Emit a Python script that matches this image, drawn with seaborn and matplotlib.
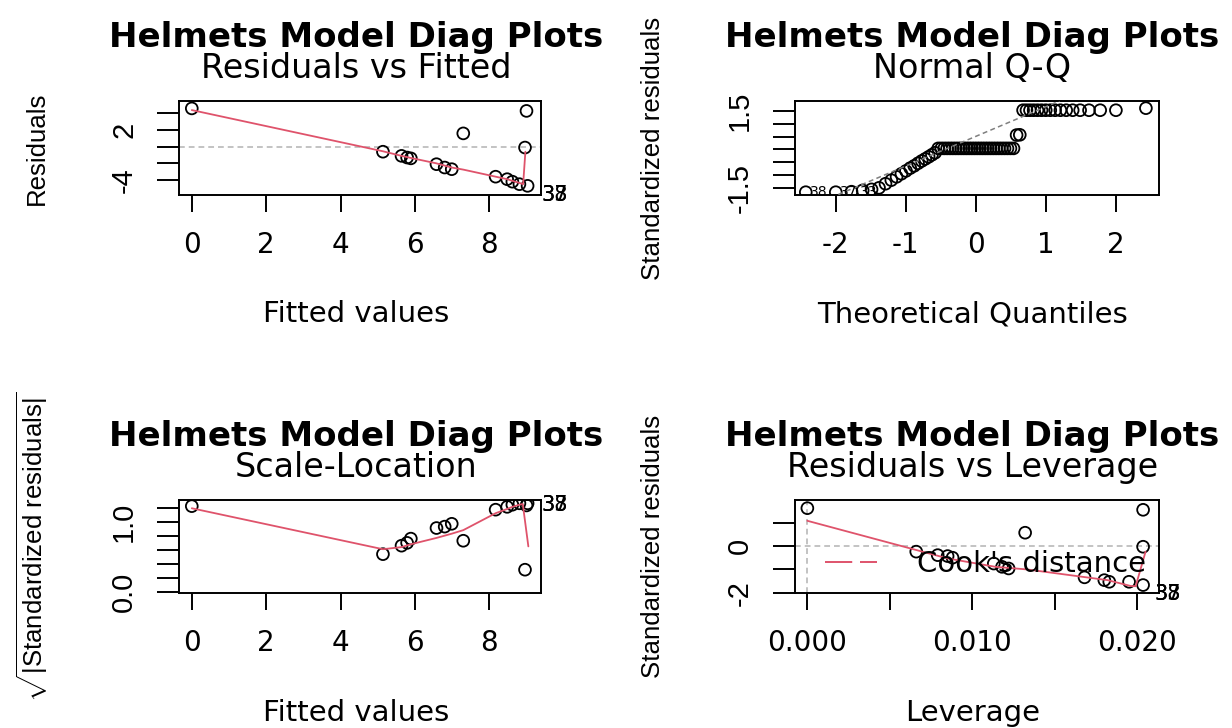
import matplotlib
matplotlib.use("Agg")
import matplotlib.pyplot as plt
import seaborn as sns
import numpy as np
from statistics import NormalDist
from matplotlib.lines import Line2D

# ---------------- data ----------------
fitted = [0.00, 9.00, 7.30, 8.96, 5.14, 5.64, 5.79, 5.89, 6.58, 6.80, 6.99,
          8.17, 8.48, 8.62, 8.81, 9.03]
residuals = [4.6, 4.3, 1.6, -0.1, -0.6, -1.1, -1.3, -1.4, -2.1, -2.5, -2.7,
             -3.6, -3.9, -4.2, -4.5, -4.7]
sqrt_std_resid = [1.22, 1.23, 0.73, 0.32, 0.54, 0.66, 0.70, 0.76, 0.91, 0.93,
                  0.97, 1.17, 1.21, 1.24, 1.26, 1.26]
leverage = [0.0, 0.02035, 0.0132, 0.02035, 0.0066, 0.0079, 0.0085, 0.0088,
            0.0113, 0.0118, 0.0122, 0.0168, 0.0180, 0.0183, 0.0195, 0.02035]
std_resid = [1.62, 1.55, 0.57, -0.03, -0.24, -0.39, -0.43, -0.50, -0.75,
             -0.89, -0.96, -1.34, -1.46, -1.53, -1.53, -1.67]

# lowess smoother curves (red)
smooth_rf_x = [0.00, 5.14, 5.64, 5.89, 6.58, 6.99, 7.30, 8.17, 8.48, 8.62, 8.81, 8.91, 8.97]
smooth_rf_y = [4.4, -0.55, -1.1, -1.35, -2.0, -2.5, -2.75, -3.6, -3.9, -4.1, -4.35, -4.5, -0.6]
smooth_sl_x = [0.00, 5.14, 5.64, 5.89, 6.58, 6.99, 7.30, 8.17, 8.48, 8.62, 8.81, 8.90, 9.05]
smooth_sl_y = [1.19, 0.61, 0.64, 0.68, 0.77, 0.83, 0.88, 1.12, 1.18, 1.21, 1.24, 1.25, 0.65]
smooth_lev_x = [0.0, 0.0066, 0.0085, 0.0114, 0.0133, 0.0166, 0.0182, 0.0196, 0.0199, 0.0205]
smooth_lev_y = [1.08, -0.17, -0.53, -0.89, -1.0, -1.31, -1.46, -1.71, -1.72, -0.24]

# sorted standardized residuals for the Normal Q-Q panel
qq_std_resid = ([-1.67, -1.67, -1.65, -1.60, -1.56, -1.50, -1.34, -1.20, -1.07,
                 -0.95, -0.84, -0.73, -0.64, -0.54, -0.45, -0.37, -0.29, -0.21, -0.13]
                + [0.04] * 28
                + [0.56, 0.57]
                + [1.53] * 16
                + [1.61])

id_labels = ["38", "37", "33"]

titles_main = "Helmets Model Diag Plots"
subtitles = ["Residuals vs Fitted", "Normal Q-Q", "Scale-Location", "Residuals vs Leverage"]
xlabels = ["Fitted values", "Theoretical Quantiles", "Fitted values", "Leverage"]

# ---------------- style ----------------
sns.set_style("white")
plt.rcParams["font.family"] = ["DejaVu Sans"]
plt.rcParams["text.color"] = "black"
plt.rcParams["axes.edgecolor"] = "black"
plt.rcParams["axes.linewidth"] = 1.4
plt.rcParams["xtick.color"] = "black"
plt.rcParams["ytick.color"] = "black"
plt.rcParams["mathtext.fontset"] = "custom"
plt.rcParams["mathtext.rm"] = "Liberation Sans"
plt.rcParams["mathtext.it"] = "Liberation Sans:italic"
plt.rcParams["mathtext.bf"] = "Liberation Sans:bold"

RED = "#DF536B"
W, H = 1232, 728
fig = plt.figure(figsize=(W / 100, H / 100), dpi=100)
fig.patch.set_facecolor("white")


def box(l, r, t, b):
    return [l / W, 1 - b / H, (r - l) / W, (b - t) / H]


def ftext(px, py, s, **kw):
    fig.text(px / W, 1 - py / H, s, **kw)


ax1 = fig.add_axes(box(179, 541, 101, 194.5))
ax2 = fig.add_axes(box(794.5, 1158.6, 101, 194.5))
ax3 = fig.add_axes(box(179, 541, 500, 593))
ax4 = fig.add_axes(box(794.5, 1158.6, 500, 593))
axes = [ax1, ax2, ax3, ax4]

pt_kw = dict(marker="o", s=72, facecolors="none", edgecolor="black",
             linewidth=1.3, zorder=3, legend=False)
ln_kw = dict(color=RED, linewidth=1.3, sort=False, estimator=None, zorder=4, legend=False)
ref_ls = (0, (3.2, 2.2))

# Panel 1: Residuals vs Fitted
ax1.axhline(0, color="#BEBEBE", lw=1.3, ls=ref_ls, zorder=1)
sns.scatterplot(x=fitted, y=residuals, ax=ax1, **pt_kw)
sns.lineplot(x=smooth_rf_x, y=smooth_rf_y, ax=ax1, **ln_kw)

# Panel 2: Normal Q-Q
n = len(qq_std_resid)
qq_theo = [NormalDist().inv_cdf((i + 0.5) / n) for i in range(n)]
sns.scatterplot(x=qq_theo, y=qq_std_resid, ax=ax2, **pt_kw)
yq = np.quantile(qq_std_resid, [0.25, 0.75])
xq = [NormalDist().inv_cdf(0.25), NormalDist().inv_cdf(0.75)]
slope = (yq[1] - yq[0]) / (xq[1] - xq[0])
ax2.axline((xq[0], yq[0]), slope=slope, color="#7F7F7F", lw=1.1, ls=ref_ls, zorder=4)

# Panel 3: Scale-Location
sns.scatterplot(x=fitted, y=sqrt_std_resid, ax=ax3, **pt_kw)
sns.lineplot(x=smooth_sl_x, y=smooth_sl_y, ax=ax3, **ln_kw)

# Panel 4: Residuals vs Leverage
ax4.axhline(0, color="#BEBEBE", lw=1.3, ls=ref_ls, zorder=1)
ax4.axvline(0, color="#BEBEBE", lw=1.3, ls=ref_ls, zorder=1)
sns.scatterplot(x=leverage, y=std_resid, ax=ax4, **pt_kw)
sns.lineplot(x=smooth_lev_x, y=smooth_lev_y, ax=ax4, **ln_kw)
handle = Line2D([], [], color=RED, lw=1.4, ls=(0, (14, 4)))
ax4.legend([handle], ["Cook's distance"], loc="center left",
           bbox_to_anchor=(0.084, 0.31), frameon=False, fontsize=21,
           handlelength=1.77, handletextpad=1.39, borderpad=0, borderaxespad=0)

# limits & ticks
ax1.set_xlim(-0.344, 9.39); ax1.set_ylim(-5.74, 5.49)
ax1.set_xticks([0, 2, 4, 6, 8]); ax1.set_xticklabels(["0", "2", "4", "6", "8"])
ax1.set_yticks([-4, -2, 0, 2, 4]); ax1.set_yticklabels(["-4", "", "", "2", ""])

ax2.set_xlim(-2.59, 2.61); ax2.set_ylim(-1.76, 1.89)
ax2.set_xticks([-2, -1, 0, 1, 2]); ax2.set_xticklabels(["-2", "-1", "0", "1", "2"])
ax2.set_yticks([-1.5, -1, -0.5, 0, 0.5, 1, 1.5])
ax2.set_yticklabels(["-1.5", "", "", "", "", "", "1.5"])

ax3.set_xlim(-0.344, 9.39); ax3.set_ylim(-0.01, 1.307)
ax3.set_xticks([0, 2, 4, 6, 8]); ax3.set_xticklabels(["0", "2", "4", "6", "8"])
ax3.set_yticks([0, 0.2, 0.4, 0.6, 0.8, 1.0, 1.2])
ax3.set_yticklabels(["0.0", "", "", "", "", "1.0", ""])

ax4.set_xlim(-0.00078, 0.02129); ax4.set_ylim(-2.01, 1.97)
ax4.set_xticks([0, 0.005, 0.010, 0.015, 0.020])
ax4.set_xticklabels(["0.000", "", "0.010", "", "0.020"])
ax4.set_yticks([-2, -1, 0, 1]); ax4.set_yticklabels(["-2", "", "0", ""])

for ax in axes:
    ax.set_xlabel(""); ax.set_ylabel("")
    for sp in ax.spines.values():
        sp.set_visible(True); sp.set_color("black"); sp.set_linewidth(1.4)
    ax.tick_params(axis="x", bottom=True, direction="out", length=12, width=1.4,
                   pad=14, labelsize=20)
    ax.tick_params(axis="y", left=True, direction="out", length=15.5, width=1.4,
                   pad=14, labelsize=21, labelrotation=90)
    for lbl in ax.get_yticklabels():
        lbl.set_fontfamily("Liberation Sans")
        lbl.set_verticalalignment("center")
    ax.set_facecolor("white")

# point id labels
lab_kw = dict(textcoords="offset points", annotation_clip=False, fontsize=15,
              ha="center", va="center", zorder=6)
k = int(np.argmin(residuals))
for lab in id_labels:
    ax1.annotate(lab, (fitted[k], residuals[k]), xytext=(19.4, -6.6), **lab_kw)
    ax3.annotate(lab, (fitted[k], sqrt_std_resid[k]), xytext=(19.7, -1.2), **lab_kw)
    ax4.annotate(lab, (leverage[k], std_resid[k]), xytext=(17.9, -6.5), **lab_kw)
qq_offsets = [(3, 0), (3, 0), (6, 0)]
for i, lab in enumerate(id_labels):
    ax2.annotate(lab, (qq_theo[i], qq_std_resid[i]), xytext=qq_offsets[i],
                 textcoords="offset points", fontsize=10, ha="left", va="center",
                 annotation_clip=False, zorder=6)

# titles and axis labels
centers = [356, 972.5, 356, 972.5]
row_off = [0, 0, 399, 399]
for c, off, sub, xl in zip(centers, row_off, subtitles, xlabels):
    ftext(c, 46.7 + off, titles_main, ha="center", va="baseline",
          fontsize=24.5, fontweight="bold")
    ftext(c, 78.3 + off, sub, ha="center", va="baseline", fontsize=24)
    ftext(c, 322 + off, xl, ha="center", va="baseline", fontsize=21)

ylab_kw = dict(rotation=90, ha="center", va="center", fontsize=18.6,
               family="Liberation Sans")
ftext(36.6, 148, "Residuals", **ylab_kw)
ftext(652.5, 148, "Standardized residuals", **ylab_kw)
ftext(32, 546.5, r"$\sqrt{|\mathrm{Standardized\ residuals}|}$", **ylab_kw)
ftext(652.5, 546.5, "Standardized residuals", **ylab_kw)

fig.savefig("out.png", dpi=100, facecolor="white")
